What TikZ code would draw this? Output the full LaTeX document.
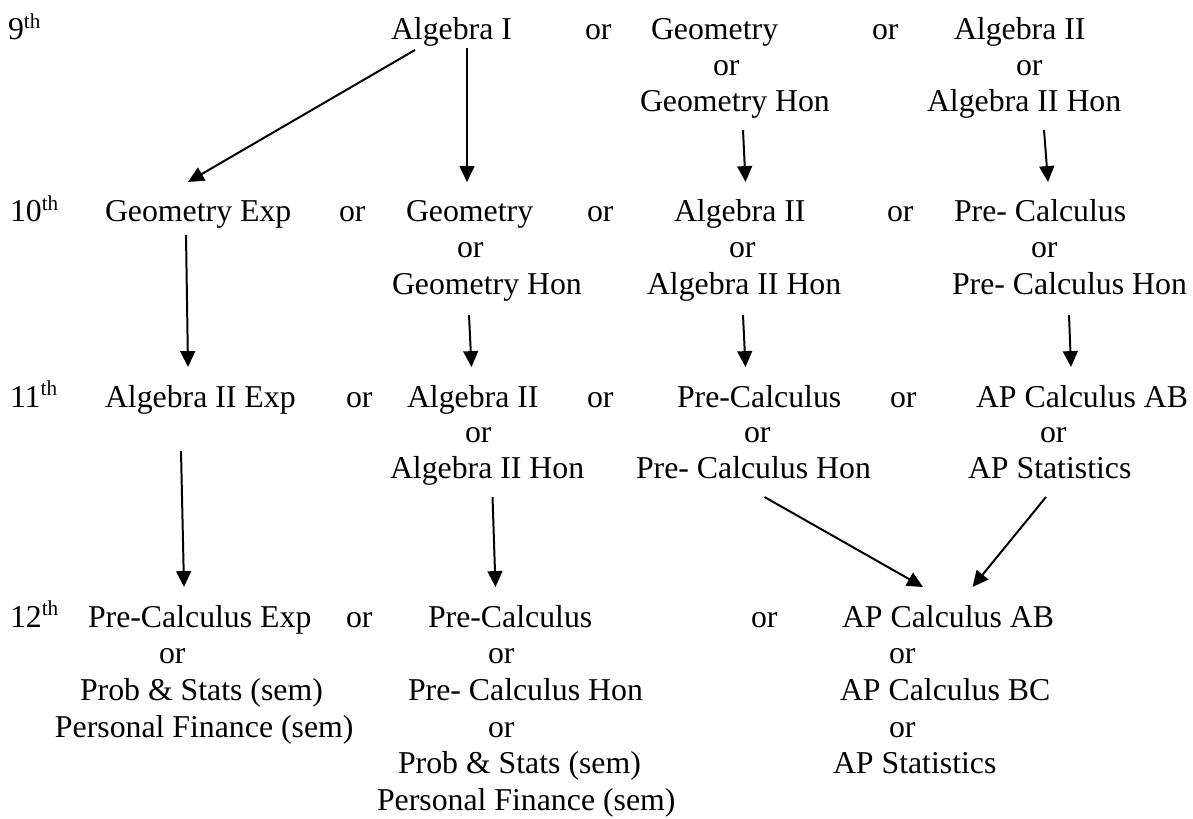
\documentclass[tikz,border=0pt]{standalone}
\usepackage{fontspec}
\setmainfont{Liberation Serif}
\usetikzlibrary{arrows.meta}
\begin{document}
\begin{tikzpicture}[x=0.3774pt,y=-0.3774pt,
  t/.style={anchor=base west,inner sep=0pt,outer sep=0pt,font=\fontsize{12}{14}\selectfont},
  arr/.style={line width=0.75pt,-{Triangle[length=6pt,width=5.6pt]}}]
\useasboundingbox (0,0) rectangle (1193,819);
% grade labels
\node[t] (g9)  at (8,40)  {9\textsuperscript{th}};
\node[t] (g10) at (10,222) {10\textsuperscript{th}};
\node[t] (g11) at (10,407) {11\textsuperscript{th}};
\node[t] (g12) at (10,627) {12\textsuperscript{th}};
% 9th
\node[t] (n9a) at (391,40) {Algebra I};
\node[t] (o9a) at (585,40) {or};
\node[t] (n9b) at (651,40) {Geometry};
\node[t] (o9b) at (872,40) {or};
\node[t] (n9c) at (954,40) {Algebra II};
\node[t] (o9c) at (713,76) {or};
\node[t] (o9d) at (1016,76) {or};
\node[t] (n9bh) at (640,112) {Geometry Hon};
\node[t] (n9ch) at (927,112) {Algebra II Hon};
% 10th
\node[t] (n10a) at (105,222) {Geometry Exp};
\node[t] (o10a) at (339,222) {or};
\node[t] (n10b) at (406,222) {Geometry};
\node[t] (o10b) at (587,222) {or};
\node[t] (n10c) at (674,222) {Algebra II};
\node[t] (o10c) at (887,222) {or};
\node[t] (n10d) at (954,222) {Pre- Calculus};
\node[t] (o10d) at (457,258) {or};
\node[t] (o10e) at (729,258) {or};
\node[t] (o10f) at (1031,258) {or};
\node[t] (n10bh) at (392,295) {Geometry Hon};
\node[t] (n10ch) at (647,295) {Algebra II Hon};
\node[t] (n10dh) at (952,295) {Pre- Calculus Hon};
% 11th
\node[t] (n11a) at (105,407) {Algebra II Exp};
\node[t] (o11a) at (346,407) {or};
\node[t] (n11b) at (407,407) {Algebra II};
\node[t] (o11b) at (587,407) {or};
\node[t] (n11c) at (677,407) {Pre-Calculus};
\node[t] (o11c) at (890,407) {or};
\node[t] (n11d) at (976,407) {AP Calculus AB};
\node[t] (o11d) at (465,442) {or};
\node[t] (o11e) at (744,442) {or};
\node[t] (o11f) at (1040,442) {or};
\node[t] (n11bh) at (390,478) {Algebra II Hon};
\node[t] (n11ch) at (636,478) {Pre- Calculus Hon};
\node[t] (n11dh) at (968,478) {AP Statistics};
% 12th
\node[t] (n12a) at (88,627) {Pre-Calculus Exp};
\node[t] (o12a) at (346,627) {or};
\node[t] (n12b) at (428,627) {Pre-Calculus};
\node[t] (o12b) at (751,627) {or};
\node[t] (n12c) at (842,627) {AP Calculus AB};
\node[t] (o12c) at (159,663) {or};
\node[t] (o12d) at (488,663) {or};
\node[t] (o12e) at (889,663) {or};
\node[t] (n12a2) at (80,700) {Prob \& Stats (sem)};
\node[t] (n12b2) at (408,700) {Pre- Calculus Hon};
\node[t] (n12c2) at (840,700) {AP Calculus BC};
\node[t] (n12a3) at (55,737) {Personal Finance (sem)};
\node[t] (o12f) at (488,737) {or};
\node[t] (o12g) at (889,737) {or};
\node[t] (n12b3) at (398,773) {Prob \& Stats (sem)};
\node[t] (n12c3) at (833,773) {AP Statistics};
\node[t] (n12b4) at (377,810) {Personal Finance (sem)};
% arrow end points
\coordinate (a1s) at (415,50);  \coordinate (a1e) at (188,182);
\coordinate (a2s) at (467,48);  \coordinate (a2e) at (467,182);
\coordinate (a3s) at (743,130); \coordinate (a3e) at (745.5,182);
\coordinate (a4s) at (1044,130);\coordinate (a4e) at (1048,182);
\coordinate (b1s) at (186,235); \coordinate (b1e) at (188,367);
\coordinate (b2s) at (469,315); \coordinate (b2e) at (471.5,367);
\coordinate (b3s) at (743,315); \coordinate (b3e) at (745.5,367);
\coordinate (b4s) at (1069,315);\coordinate (b4e) at (1071,367);
\coordinate (c1s) at (181,451); \coordinate (c1e) at (184,587);
\coordinate (c2s) at (492.5,497); \coordinate (c2e) at (495.5,587);
\coordinate (c3s) at (764.5,497); \coordinate (c3e) at (923,587);
\coordinate (c4s) at (1046,497); \coordinate (c4e) at (972.5,587);
\foreach \a in {a1,a2,a3,a4,b1,b2,b3,b4,c1,c2,c3,c4}
  \draw[arr] (\a s) -- (\a e);
\end{tikzpicture}
\end{document}
